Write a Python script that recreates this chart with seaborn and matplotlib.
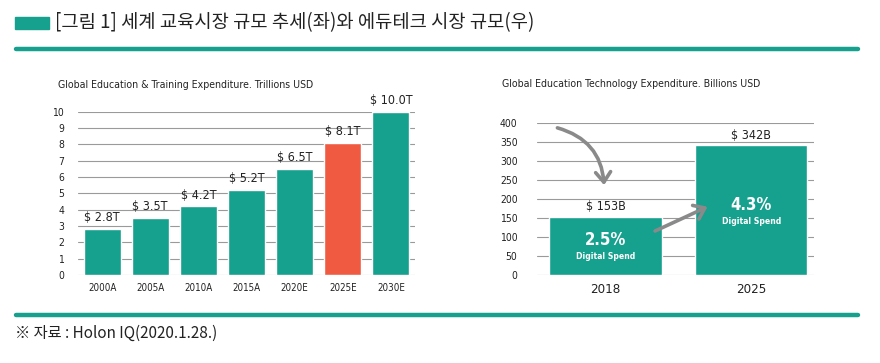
import pandas as pd
import matplotlib.pyplot as plt
import matplotlib.patches as mpatches
import seaborn as sns

# data
years = ['2000A', '2005A', '2010A', '2015A', '2020E', '2025E', '2030E']
spend_trillion = [2.8, 3.5, 4.2, 5.2, 6.5, 8.1, 10.0]
edtech_years = ['2018', '2025']
edtech_billion = [153, 342]
digital_share = ['2.5%', '4.3%']

TEAL = '#16a08e'
RED = '#ef5a41'
GRID = '#9a9a9a'
KR = ['Noto Sans CJK KR', 'DejaVu Sans']

sns.set_theme(style='white')
plt.rcParams['font.family'] = ['DejaVu Sans']
plt.rcParams['font.stretch'] = 'condensed'

W, H = 880, 363
fig = plt.figure(figsize=(W / 100, H / 100), dpi=100)


def box(x0, y0, x1, y1):
    # pixel box (top-left origin) -> figure fraction rect
    return [x0 / W, 1 - y1 / H, (x1 - x0) / W, (y1 - y0) / H]


# header
fig.patches.append(mpatches.Rectangle((15 / W, 1 - 29 / H), 34 / W, 12 / H,
                                      transform=fig.transFigure, color=TEAL))
fig.text(55 / W, 1 - 23 / H, '[그림 1] 세계 교육시장 규모 추세(좌)와 에듀테크 시장 규모(우)',
         family=KR, fontsize=13.5, fontweight='medium', color='#222222', va='center')
for y in (49, 315):
    fig.add_artist(plt.Line2D([16 / W, 858 / W], [1 - y / H, 1 - y / H],
                              transform=fig.transFigure, color=TEAL, lw=3.2,
                              solid_capstyle='round'))
fig.text(15 / W, 1 - 333 / H, '※ 자료 : Holon IQ(2020.1.28.)', family=KR,
         fontsize=11, color='#222222', va='center')


def style_axes(ax):
    sns.despine(ax=ax, left=True, bottom=True)
    ax.grid(axis='y', color=GRID, lw=0.8)
    ax.set_axisbelow(True)
    ax.tick_params(length=0, labelcolor='#222222')
    ax.set_xlabel('')
    ax.set_ylabel('')
    ax.set_facecolor('white')


# left chart
df1 = pd.DataFrame({'year': years, 'value': spend_trillion})
ax1 = fig.add_axes(box(78, 111.7, 415, 275))
colors1 = [RED if y == '2025E' else TEAL for y in years]
sns.barplot(data=df1, x='year', y='value', hue='year', palette=colors1,
            legend=False, width=0.77, saturation=1, ax=ax1)
style_axes(ax1)
ax1.set_ylim(0, 10)
ax1.set_yticks(range(0, 11))
ax1.tick_params(axis='y', labelsize=7.5, pad=10)
ax1.tick_params(axis='x', labelsize=7, pad=6)
for i, v in enumerate(spend_trillion):
    ax1.text(i, v + 0.3, f'$ {v:.1f}T', ha='center', va='bottom',
             fontsize=9, color='#222222', clip_on=False)
fig.text(58 / W, 1 - 85 / H, 'Global Education & Training Expenditure. Trillions USD',
         fontsize=7.6, color='#222222', va='center')

# right chart
df2 = pd.DataFrame({'year': edtech_years, 'value': edtech_billion})
ax2 = fig.add_axes(box(537, 123.3, 814, 275))
sns.barplot(data=df2, x='year', y='value', color=TEAL, width=0.77,
            saturation=1, ax=ax2)
style_axes(ax2)
ax2.set_xlim(-0.47, 1.43)
ax2.set_ylim(0, 400)
ax2.set_yticks(range(0, 401, 50))
ax2.tick_params(axis='y', labelsize=7.5, pad=14)
ax2.tick_params(axis='x', labelsize=9.5, pad=6)
for i, v in enumerate(edtech_billion):
    ax2.text(i, v + 10, f'$ {v}B', ha='center', va='bottom',
             fontsize=9, color='#222222')
# digital spend labels inside the bars
ax2.text(0, 93, digital_share[0], ha='center', va='center', color='white',
         fontsize=12, fontweight='bold')
ax2.text(0, 50, 'Digital Spend', ha='center', va='center', color='white',
         fontsize=6.2, fontweight='bold')
ax2.text(1, 185, digital_share[1], ha='center', va='center', color='white',
         fontsize=12, fontweight='bold')
ax2.text(1, 140, 'Digital Spend', ha='center', va='center', color='white',
         fontsize=6.2, fontweight='bold')
# arrows
arrow = dict(arrowstyle='->,head_length=0.6,head_width=0.45', color='#8a8a8a',
             lw=2.6, shrinkA=0, shrinkB=0)
ax2.annotate('', xy=(-0.01, 237), xytext=(-0.33, 388),
             arrowprops=dict(arrow, connectionstyle='arc3,rad=-0.35'))
ax2.annotate('', xy=(0.70, 180), xytext=(0.34, 116), arrowprops=arrow)
fig.text(502 / W, 1 - 84 / H, 'Global Education Technology Expenditure. Billions USD',
         fontsize=7.6, color='#222222', va='center')

fig.savefig('out.png', dpi=100, facecolor='white')
